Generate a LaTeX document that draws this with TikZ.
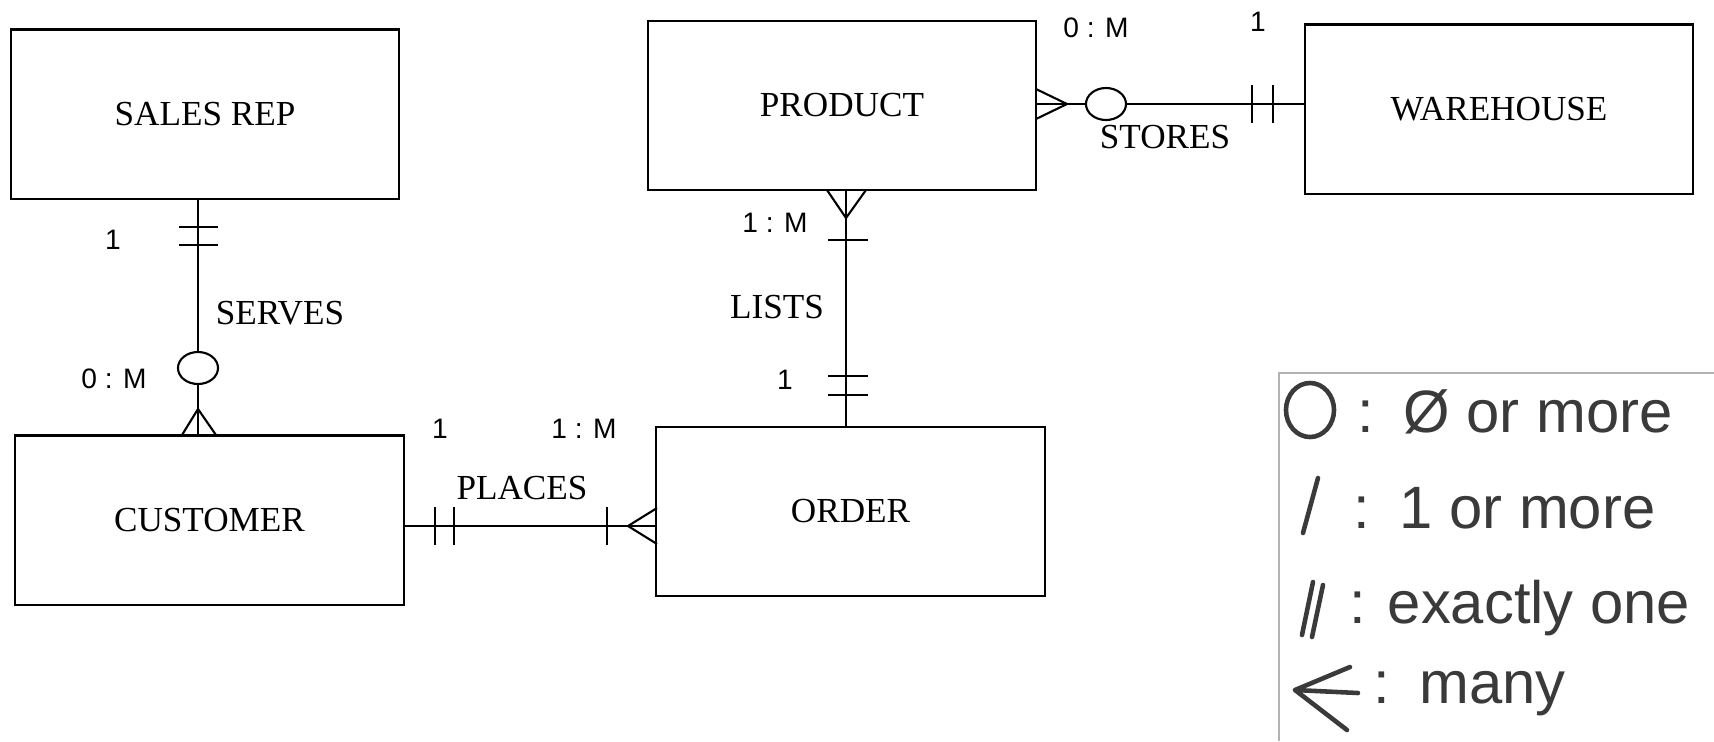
\documentclass[tikz,border=0pt]{standalone}
\usepackage{fontspec}
\setmainfont{Liberation Serif}
\newfontfamily\cardfont{Liberation Sans}
\newfontfamily\handfont{Liberation Sans}
\usepackage{tikz}
\usetikzlibrary{positioning}
\definecolor{handgray}{HTML}{3A3A3A}

\begin{document}
\begin{tikzpicture}[
    x=0.01cm, y=-0.01cm, line width=0.6pt,
    entity/.style={draw, minimum width=3.88cm, minimum height=1.69cm, font=\fontsize{10}{12}\selectfont},
    rel/.style={font=\fontsize{10}{12}\selectfont, inner sep=0pt},
    card/.style={font=\cardfont\fontsize{8}{10}\selectfont, inner sep=0pt},
    hand/.style={font=\handfont\fontsize{17}{20}\selectfont, text=handgray, anchor=base west, inner sep=0pt},
    handline/.style={draw=handgray, line width=1.3pt, line cap=round, line join=round}
]

  % area
  \fill[white] (0,0) rectangle (1714,741);
  \useasboundingbox (0,0) rectangle (1714,741);

  % entities
  \node[entity] (sales) at (205,114) {SALES REP};
  \node[entity] (cust) at (209.5,520) {CUSTOMER};
  \node[entity] (prod) at (842,105.5) {PRODUCT};
  \node[entity] (order) at (850.5,511.5) {ORDER};
  \node[entity] (ware) at (1499,109) {WAREHOUSE};

  % line positions
  \coordinate (sv) at (198,0);
  \coordinate (pl) at (0,526);
  \coordinate (ls) at (846,0);
  \coordinate (st) at (0,104);

  % serves
  \draw (sales.south -| sv) -- (cust.north -| sv);
  \draw (179,227) -- (218,227) (179,245) -- (218,245);
  \draw (182,435) -- (198,409) -- (216,435);
  \draw[fill=white] (198,368) ellipse [x radius=0.2cm, y radius=0.16cm];
  \node[card] (svone) at (113,240) {1};
  \node[rel] (svlab) at (280,313) {SERVES};
  \node[card] (svmany) at (114,379) {0 : M};

  % places
  \draw (cust.east |- pl) -- (order.west |- pl);
  \draw (435,507) -- (435,545) (454,507) -- (454,545);
  \draw (607,507) -- (607,545);
  \draw (657,508) -- (628,526) -- (657,544);
  \node[card] (plone) at (440,429) {1};
  \node[card] (plmany) at (584,429) {1 : M};
  \node[rel] (pllab) at (522,488) {PLACES};

  % lists
  \draw (prod.south -| ls) -- (order.north -| ls);
  \draw (827,190) -- (846,218) -- (866,190);
  \draw (828,240) -- (868,240);
  \draw (828,376) -- (868,376) (828,395) -- (868,395);
  \node[card] (lsmany) at (775,223) {1 : M};
  \node[rel] (lslab) at (777,307) {LISTS};
  \node[card] (lsone) at (785,380) {1};

  % stores
  \draw (prod.east |- st) -- (ware.west |- st);
  \draw (1036,89) -- (1067,104) -- (1036,119);
  \draw[fill=white] (1106,104) ellipse [x radius=0.2cm, y radius=0.16cm];
  \draw (1252,85) -- (1252,123) (1273,85) -- (1273,123);
  \node[card] (stmany) at (1096,28) {0 : M};
  \node[card] (stone) at (1258,22) {1};
  \node[rel] (stlab) at (1165,137) {STORES};

  % legend
  \draw[gray!60, line width=0.5pt] (1279,741) -- (1279,373) -- (1714,373);
  \draw[handline] (1310,410) ellipse [x radius=0.24cm, y radius=0.27cm];
  \node[hand] (lgzero) at (1356,432) {:\enspace Ø or more};
  \draw[handline] (1303,533) -- (1318,478);
  \node[hand] (lgone) at (1352,528) {:\enspace 1 or more};
  \draw[handline] (1302,635) -- (1313,582) (1312,637) -- (1323,585);
  \node[hand] (lgexact) at (1348,623) {: exactly one};
  \draw[handline] (1350,667) -- (1295,690) -- (1347,730) (1295,690) -- (1358,693);
  \node[hand] (lgmany) at (1372,703) {:\enspace many};

\end{tikzpicture}
\end{document}
